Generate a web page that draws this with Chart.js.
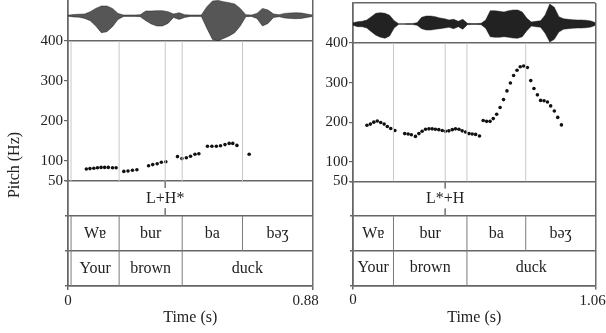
<!DOCTYPE html>
<html>
<head>
<meta charset="utf-8">
<script src="https://cdn.jsdelivr.net/npm/chart.js@4.4.1/dist/chart.umd.min.js"></script>
<style>
  html, body { margin: 0; padding: 0; background: #fff; }
  #wrap { position: relative; width: 606px; height: 333px; }
  #wrap canvas { position: absolute; left: 0; top: 0; }
</style>
</head>
<body>
<div id="wrap">
  <canvas id="panelLeft" width="606" height="333"></canvas>
  <canvas id="panelRight" width="606" height="333"></canvas>
</div>
<script>
// praat-style figure: waveform, pitch track and three label tiers, two utterances

const pitchTicks = [50, 100, 200, 300, 400];

// left utterance (L+H*)
const durL = 0.88;
const pitchTimesL = [0.066, 0.079, 0.093, 0.106, 0.119, 0.132, 0.145, 0.160, 0.173,
    0.201, 0.216, 0.232, 0.248,
    0.290, 0.305, 0.321, 0.336, 0.352,
    0.394, 0.410, 0.426, 0.441, 0.457, 0.471,
    0.502, 0.518, 0.534, 0.549, 0.565, 0.580, 0.593, 0.608,
    0.652];
const pitchHzL = [80, 81, 82, 83, 84, 84, 84, 83, 83,
    74, 75, 77, 78,
    88, 91, 93, 97, 98,
    111, 106, 108, 112, 117, 118,
    137, 137, 137, 138, 141, 144, 144, 139,
    117];
// waveform envelope, one value every 20 ms
const waveHiL = [0.5, 1.2, 1.5, 1.7, 4, 7.3, 9.7, 9.7, 7.3, 2.3, 0.7, 0.7, 0.7, 1, 4.7, 4.7, 5, 5, 4, 1.7,
    3, 1, 0.7, 0.7, 0.7, 9, 14.7, 15.3, 14, 13, 11.7, 7.3, 1, 0.7, 2.3, 7.3, 5.7, 1.7, 1, 2.3,
    2.7, 3, 2.7, 1.7, 0.7];
const waveLoL = [-0.5, -1.2, -1.5, -2.7, -5, -10.3, -17, -16, -11, -3.7, -0.7, -0.7, -0.7, -1, -5, -8.3, -10.3, -10.3, -7.7, -1.7,
    -3.7, -1.7, -0.7, -0.7, -0.7, -12.7, -23.7, -25, -22.7, -20.3, -17, -10.3, -1, -0.7, -2.7, -10.3, -7.7, -1.7, -1, -2.3,
    -2.7, -3, -2.7, -1.7, -0.7];
const pitchLinesL = [0.011, 0.184, 0.350, 0.411, 0.628];
const toneL = 'L+H*';
const toneTimeL = 0.350;
const syllLabelsL = ['Wɐ', 'bur', 'ba', 'bəʒ'];
const syllStartsL = [0.011, 0.184, 0.411, 0.628];
const syllEndsL = [0.184, 0.411, 0.628, 0.88];
const wordLabelsL = ['Your', 'brown', 'duck'];
const wordStartsL = [0.011, 0.184, 0.411];
const wordEndsL = [0.184, 0.411, 0.88];

// right utterance (L*+H)
const durR = 1.06;
const pitchTimesR = [0.061, 0.076, 0.091, 0.106, 0.121, 0.136, 0.150, 0.165, 0.183,
    0.226, 0.241, 0.255, 0.273, 0.288, 0.302, 0.317, 0.332, 0.346, 0.360, 0.375, 0.390,
    0.404, 0.419, 0.434, 0.448, 0.463, 0.477, 0.492, 0.507, 0.521, 0.536, 0.553,
    0.569, 0.584, 0.599, 0.613, 0.628, 0.643, 0.658, 0.673, 0.688, 0.702, 0.717, 0.731,
    0.746, 0.762, 0.777, 0.791, 0.806, 0.820, 0.835, 0.850, 0.864, 0.880, 0.895, 0.911];
const pitchHzR = [192, 195, 200, 203, 199, 195, 189, 184, 179,
    171, 170, 168, 164, 171, 177, 182, 183, 183, 182, 181, 179,
    177, 178, 181, 183, 182, 178, 175, 171, 170, 169, 165,
    204, 202, 202, 209, 220, 237, 257, 279, 299, 318, 331, 340,
    342, 338, 305, 285, 269, 255, 254, 251, 241, 228, 212, 193];
const waveHiR = [1.3, 2.3, 2.7, 4, 7.3, 10.7, 11.3, 10.7, 8.7, 3.3, 0.3, 0.3, 0.5, 0.5, 1.3, 6.7, 8, 8, 7.3, 6,
    5.3, 4, 4.7, 2.7, 4.7, 0.7, 0.5, 0.5, 0.7, 4, 13.3, 13.3, 12.7, 12, 13.3, 14, 14, 12, 5.7, 2,
    2.7, 3.3, 9, 20, 16.7, 7.3, 5.3, 4.7, 4.3, 4, 4, 3.7, 3, 1.3];
const waveLoR = [-1.3, -2.7, -2.7, -4, -7.7, -11.3, -13.3, -14.3, -12, -4, -0.3, -0.3, -0.5, -0.5, -1.3, -4.7, -6, -6, -5.3, -4.7,
    -4, -3.3, -4.7, -2.7, -5.3, -0.7, -0.5, -0.5, -0.7, -4.3, -12.7, -13.3, -13.3, -12.7, -13.3, -14, -14.3, -12.7, -6.7, -2,
    -2.7, -3.3, -9.3, -18, -15.3, -8, -5.3, -4.7, -4.3, -4, -4, -3.7, -3, -1.3];
const pitchLinesR = [0.177, 0.403, 0.498, 0.755];
const toneR = 'L*+H';
const toneTimeR = 0.403;
const syllLabelsR = ['Wɐ', 'bur', 'ba', 'bəʒ'];
const syllStartsR = [0, 0.177, 0.498, 0.755];
const syllEndsR = [0.177, 0.498, 0.755, 1.06];
const wordLabelsR = ['Your', 'brown', 'duck'];
const wordStartsR = [0, 0.177, 0.498];
const wordEndsR = [0.177, 0.498, 1.06];

const WAVE_STEP = 0.02;
const FONT = "'Liberation Serif', 'Times New Roman', 'DejaVu Serif', serif";
const INK = '#222';
const FRAME = '#666';
const TIER_LINE = '#7a7a7a';
const PITCH_LINE = '#c8c8c8';

Chart.defaults.font.family = FONT;
Chart.defaults.font.size = 15;
Chart.defaults.color = INK;

function vline(t, y0, y1, axis, color, width) {
    return {
        type: 'line',
        data: [{x: t, y: y0}, {x: t, y: y1}],
        yAxisID: axis,
        borderColor: color,
        borderWidth: width,
        pointRadius: 0,
        fill: false,
    };
}

function textPlugin(p) {
    return {
        id: 'tierText',
        afterDatasetsDraw(chart) {
            const ctx = chart.ctx;
            const x = chart.scales.x;
            const y = chart.scales.yTier;
            ctx.save();
            ctx.font = '16px ' + FONT;
            ctx.fillStyle = INK;
            ctx.textAlign = 'center';
            ctx.textBaseline = 'middle';
            p.tiers.forEach(tier => {
                tier.labels.forEach((label, i) => {
                    const cx = x.getPixelForValue((tier.starts[i] + tier.ends[i]) / 2);
                    ctx.fillText(label, cx, y.getPixelForValue(tier.row + 0.5));
                });
            });
            ctx.fillText(p.tone, x.getPixelForValue(p.toneTime), y.getPixelForValue(2.5));

            // end-of-file time label sits a little inside the frame edge
            ctx.font = '15px ' + FONT;
            ctx.fillText(p.dur.toFixed(2), x.getPixelForValue(p.dur) + p.endShift, x.top + 15.5);

            if (p.yTitle) {
                ctx.font = '16px ' + FONT;
                ctx.translate(p.yTitle.x, p.yTitle.y);
                ctx.rotate(-Math.PI / 2);
                ctx.fillText('Pitch (Hz)', 0, 0);
            }
            ctx.restore();
        }
    };
}

function initPanel(canvasId, p) {
    const canvas = document.getElementById(canvasId);

    const datasets = [{
        type: 'line',
        data: p.waveHi.map((v, i) => ({x: i * WAVE_STEP, y: v})),
        yAxisID: 'yWave',
        borderColor: 'rgba(30, 30, 30, 0.6)',
        borderWidth: 0.8,
        pointRadius: 0,
        fill: false,
    }, {
        type: 'line',
        data: p.waveLo.map((v, i) => ({x: i * WAVE_STEP, y: v})),
        yAxisID: 'yWave',
        borderColor: 'rgba(30, 30, 30, 0.6)',
        borderWidth: 0.8,
        pointRadius: 0,
        fill: '-1',
        backgroundColor: p.waveColor,
    }];

    p.pitchLines.forEach(t => datasets.push(vline(t, 50, 400, 'yPitch', PITCH_LINE, 1)));

    datasets.push({
        type: 'scatter',
        data: p.pitchT.map((t, i) => ({x: t, y: p.pitchHz[i]})),
        yAxisID: 'yPitch',
        pointRadius: 1.8,
        pointBackgroundColor: '#111',
        pointBorderWidth: 0,
    });

    p.tiers.forEach(tier => {
        const edges = [...new Set([...tier.starts, ...tier.ends])];
        edges.forEach(t => datasets.push(vline(t, tier.row, tier.row + 1, 'yTier', TIER_LINE, 1)));
    });
    datasets.push(vline(p.toneTime, 3, 2.8, 'yTier', TIER_LINE, 1));
    datasets.push(vline(p.toneTime, 2.22, 2, 'yTier', TIER_LINE, 1));

    // fixed axis width, and no extra room reserved for the end labels
    const fitAxis = scale => {
        scale.width = p.axisW;
        scale.paddingTop = 0;
        scale.paddingBottom = 0;
    };

    new Chart(canvas, {
        type: 'scatter',
        data: {datasets: datasets},
        plugins: [textPlugin(p)],
        options: {
            responsive: false,
            animation: false,
            layout: {padding: p.padding, autoPadding: false},
            plugins: {
                legend: {display: false},
                tooltip: {enabled: false},
            },
            scales: {
                x: {
                    type: 'linear',
                    position: 'bottom',
                    min: 0,
                    max: p.dur,
                    afterBuildTicks: scale => { scale.ticks = [{value: 0}, {value: p.dur}]; },
                    afterFit: scale => {
                        scale.height = p.xAxisH;
                        scale.paddingLeft = 0;
                        scale.paddingRight = 0;
                    },
                    grid: {color: FRAME, lineWidth: 1.5, tickLength: 4},
                    border: {color: FRAME, width: 1.5},
                    ticks: {
                        padding: 2,
                        maxRotation: 0,
                        autoSkip: false,
                        callback: v => v === 0 ? '0' : '',
                    },
                    title: {
                        display: true,
                        text: 'Time (s)',
                        font: {size: 16},
                        padding: {top: 2, bottom: 6},
                    },
                },
                yWave: {
                    type: 'linear',
                    position: 'left',
                    stack: 'praat',
                    stackWeight: p.heights[0],
                    weight: 3,
                    min: p.waveMin,
                    max: p.waveMax,
                    afterBuildTicks: scale => { scale.ticks = [{value: p.waveMin}, {value: p.waveMax}]; },
                    afterFit: fitAxis,
                    ticks: {display: false},
                    grid: {
                        color: ctx => (ctx.tick && ctx.tick.value === p.waveMax && !p.waveTopLine) ? 'rgba(0,0,0,0)' : FRAME,
                        lineWidth: 1.5,
                        drawTicks: false,
                    },
                    border: {color: FRAME, width: 1.5},
                },
                yPitch: {
                    type: 'linear',
                    position: 'left',
                    stack: 'praat',
                    stackWeight: p.heights[1],
                    weight: 2,
                    min: 50,
                    max: 400,
                    afterBuildTicks: scale => { scale.ticks = pitchTicks.map(v => ({value: v})); },
                    afterFit: fitAxis,
                    ticks: {padding: 1, autoSkip: false, callback: v => String(v)},
                    grid: {drawOnChartArea: false, color: FRAME, lineWidth: 1.2, tickLength: 4},
                    border: {color: FRAME, width: 1.5},
                },
                yTier: {
                    type: 'linear',
                    position: 'left',
                    stack: 'praat',
                    stackWeight: p.heights[2],
                    weight: 1,
                    min: 0,
                    max: 3,
                    afterBuildTicks: scale => { scale.ticks = [0, 1, 2, 3].map(v => ({value: v})); },
                    afterFit: fitAxis,
                    ticks: {display: false},
                    grid: {color: FRAME, lineWidth: 1.5, tickLength: 3},
                    border: {color: FRAME, width: 1.5},
                },
            }
        }
    });
}

initPanel('panelLeft', {
    dur: durL,
    pitchT: pitchTimesL,
    pitchHz: pitchHzL,
    waveHi: waveHiL,
    waveLo: waveLoL,
    waveMin: -25.3,
    waveMax: 15.7,
    waveTopLine: false,
    waveColor: 'rgba(30, 30, 30, 0.75)',
    pitchLines: pitchLinesL,
    tone: toneL,
    toneTime: toneTimeL,
    tiers: [
        {row: 1, labels: syllLabelsL, starts: syllStartsL, ends: syllEndsL},
        {row: 0, labels: wordLabelsL, starts: wordStartsL, ends: wordEndsL},
    ],
    padding: {left: 0, top: 0, right: 293.5, bottom: 0},
    axisW: 68,
    xAxisH: 47,
    heights: [41, 140, 105],
    endShift: -7,
    yTitle: {x: 15, y: 165},
});

initPanel('panelRight', {
    dur: durR,
    pitchT: pitchTimesR,
    pitchHz: pitchHzR,
    waveHi: waveHiR,
    waveLo: waveLoR,
    waveMin: -19,
    waveMax: 21,
    waveTopLine: true,
    waveColor: 'rgba(10, 10, 10, 0.9)',
    pitchLines: pitchLinesR,
    tone: toneR,
    toneTime: toneTimeR,
    tiers: [
        {row: 1, labels: syllLabelsR, starts: syllStartsR, ends: syllEndsR},
        {row: 0, labels: wordLabelsR, starts: wordStartsR, ends: wordEndsR},
    ],
    padding: {left: 313, top: 3, right: 10.5, bottom: 0},
    axisW: 40,
    xAxisH: 47.5,
    heights: [40, 138.5, 104],
    endShift: -3,
    yTitle: null,
});
</script>
</body>
</html>
